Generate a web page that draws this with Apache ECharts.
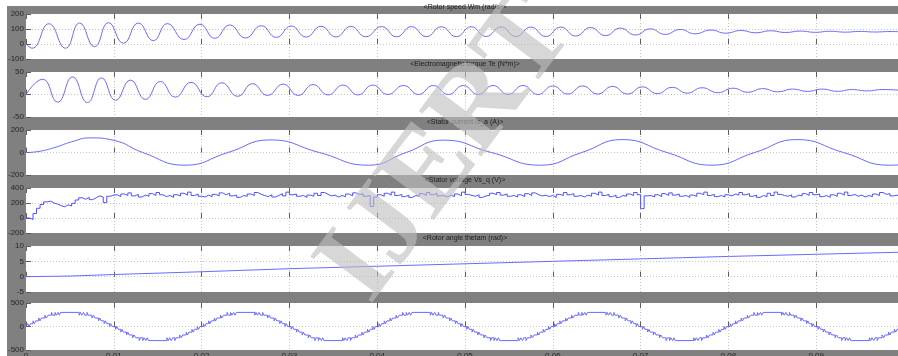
<!DOCTYPE html>
<html>
<head>
<meta charset="utf-8">
<script src="https://cdn.jsdelivr.net/npm/echarts@6/dist/echarts.min.js"></script>
<style>
  html, body { margin: 0; padding: 0; background: #ffffff; }
  #chart { width: 898px; height: 356px; }
</style>
</head>
<body>
<div id="chart"></div>
<script>
// ---- Scope traces, time in seconds ----
const panelTitles = [
  '<Rotor speed Wm (rad/s)>',
  '<Electromagnetic torque Te (N*m)>',
  '<Stator current is_a (A)>',
  '<Stator voltage Vs_q (V)>',
  '<Rotor angle thetam (rad)>',
  ''
];
const yMin  = [-100, -50, -200, -200, -5, -500];
const yMax  = [200, 50, 200, 400, 10, 500];
const yStep = [100, 50, 200, 200, 5, 500];
const timeMin = 0, timeMax = 0.1, timeStep = 0.01;

// Rotor speed: turning points of the oscillation
const speedT = [0, .0007, .0026, .0045, .0061, .0078, .0094, .0111, .0128, .0145, .0161, .0180, .0198, .0215, .0232, .0250, .0268, .0285, .0302, .0319, .0336, .0353, .0370, .0387, .0405, .0422, .0439, .0456, .0473, .0490, .0507, .0524, .0541, .0558, .0575, .0592, .0609, .0626, .0643, .0660, .0677, .0694, .0711, .0728, .0745, .0762, .0780, .0797, .0814, .0831, .0848, .0865, .0882, .0899, .0916, .0933, .0950, .0967, .0984, .1000];
const speedV = [0, -28, 135, -28, 140, -18, 142, 5, 140, 22, 136, 30, 132, 38, 127, 40, 122, 44, 120, 46, 118, 47, 117, 48, 116, 48, 116, 49, 115, 49, 115, 50, 114, 50, 113, 50, 113, 53, 110, 56, 106, 60, 101, 64, 97, 68, 93, 72, 90, 75, 88, 77, 86, 78, 85, 79, 84, 80, 83, 81];

// Electromagnetic torque: turning points
const torqueT = [0, .0019, .0036, .0053, .0070, .0086, .0102, .0119, .0136, .0153, .0170, .0188, .0206, .0223, .0241, .0258, .0275, .0293, .0310, .0327, .0344, .0361, .0378, .0395, .0412, .0430, .0447, .0464, .0481, .0498, .0515, .0532, .0549, .0566, .0583, .0600, .0617, .0634, .0651, .0668, .0685, .0702, .0719, .0736, .0753, .0770, .0788, .0805, .0822, .0839, .0856, .0873, .0890, .0907, .0924, .0941, .0958, .0975, .1000];
const torqueV = [0, 34, -17, 39, -18, 37, -13, 32, -11, 29, -6, 27, -5, 26, -4, 24, -2, 23, -2, 22, -1, 21, -1, 21, 0, 20, 0, 20, 0, 20, 0, 20, 0, 20, 0, 19, 1, 19, 1, 18, 1, 17, 2, 16, 3, 15, 4, 14, 5, 13, 6, 12, 7, 12, 7, 11, 8, 11, 9];

// Stator current phase a
const currentT = [0, .0015, .0033, .0052, .0073, .0100, .0133, .0181, .0230, .0278, .0334, .0390, .0433, .0475, .0530, .0586, .0633, .0679, .0730, .0781, .0830, .0878, .0931, .0983, .1000];
const currentV = [0, 10, 45, 95, 130, 108, 0, -113, 0, 112, 0, -113, 0, 110, 0, -113, 0, 115, 0, -113, 0, 115, 0, -113, -108];

// Stator voltage q-axis, sampled every 0.4 ms
const voltageDt = 0.0004;
const voltageV = [
  0, -20, 60, 130, 180, 215, 225, 200, 185, 165,
  150, 175, 160, 195, 240, 270, 250, 275, 245, 270,
  295, 280, 205, 290, 305,
  310, 285, 320, 300, 335, 295, 315, 280, 305, 290,
  325, 300, 340, 310, 285, 300, 275, 310, 295, 330,
  305, 345, 300, 320, 290, 280, 305, 285, 315, 295,
  335, 310, 330, 295, 305, 275, 300, 290, 320, 300,
  340, 315, 300, 285, 310, 280, 300, 325, 295, 345,
  310, 320, 290, 300, 275, 305, 290, 330, 300, 340,
  315, 295, 305, 280, 300, 285, 320, 295, 335, 310,
  325, 290, 300, 155, 280, 310, 290, 330, 305, 345,
  300, 315, 285, 305, 275, 300, 290, 325, 300, 340,
  310, 330, 295, 300, 280, 305, 285, 320, 295, 345,
  315, 300, 290, 310, 275, 295, 300, 330, 310, 340,
  305, 320, 290, 300, 280, 310, 285, 325, 300, 335,
  310, 295, 305, 285, 300, 275, 315, 300, 340, 310,
  325, 290, 300, 280, 305, 290, 330, 305, 345, 300,
  315, 285, 305, 275, 300, 290, 320, 300, 340, 310,
  125, 295, 300, 280, 310, 285, 325, 300, 335, 305,
  320, 290, 300, 275, 305, 290, 330, 310, 345, 300,
  315, 285, 300, 280, 310, 295, 320, 305, 340, 310,
  325, 290, 305, 275, 300, 285, 330, 300, 345, 315,
  300, 290, 310, 280, 305, 295, 325, 300, 340, 310,
  320, 285, 300, 275, 310, 290, 330, 305, 345, 300,
  315, 290, 305, 280, 300, 285, 320, 300, 340, 315,
  325, 295, 305, 285, 300, 310
];

// Rotor angle
const angleT = [0, .005, .01, .02, .03, .04, .05, .06, .07, .08, .09, .1];
const angleV = [0, 0.2, 0.7, 1.6, 2.6, 3.4, 4.2, 5.0, 5.8, 6.6, 7.3, 8.0];

// Multilevel phase voltage: switching pattern of one half cycle (ms, V)
const stairOffsetMs = [0, 0.2, 0.35, 0.5, 0.8, 0.95, 1.1, 1.45, 1.6, 1.75, 2.15, 2.3, 2.5, 2.9, 3.05, 3.3, 3.45, 3.65, 3.8, 3.95,
                       6.05, 6.2, 6.35, 6.55, 6.7, 6.95, 7.1, 7.5, 7.7, 7.85, 8.25, 8.4, 8.55, 8.9, 9.05, 9.2, 9.5, 9.65, 9.8];
const stairLevel    = [0, 60, 0, 60, 120, 60, 120, 180, 120, 180, 240, 180, 240, 300, 240, 300, 240, 300, 240, 300,
                       240, 300, 240, 300, 240, 300, 240, 180, 240, 180, 120, 180, 120, 60, 120, 60, 0, 60, 0];
const halfCycleStart = [0, 0.01, 0.02, 0.03, 0.04, 0.05, 0.06, 0.07, 0.08, 0.09];
const halfCycleSign  = [1, -1, 1, -1, 1, -1, 1, -1, 1, -1];

// ---- build series data ----
const zip = (t, v) => t.map((x, i) => [x, v[i]]);
const speedData = zip(speedT, speedV);
const torqueData = zip(torqueT, torqueV);
const currentData = zip(currentT, currentV);
const voltageData = voltageV.map((v, i) => [i * voltageDt, v]);
const angleData = zip(angleT, angleV);
const stairData = [];
halfCycleStart.forEach((t0, k) => {
  stairOffsetMs.forEach((ms, j) => {
    stairData.push([t0 + ms / 1000, halfCycleSign[k] * stairLevel[j]]);
  });
});
stairData.push([timeMax, 0]);

// ---- layout ----
const panelTop = [14, 72, 130, 188, 246, 303];
const panelHeight = [45, 45, 45, 45, 46, 47];
const plotLeft = 26, plotWidth = 878;
const titleCenterY = [8, 65.5, 123, 181.5, 239.5];

const bgGray = '#808080';
const traceBlue = '#6a6aff';
const labelColor = '#262626';
const tickColor = '#5e5e5e';
const gridDot = '#c4c4c4';

const grids = panelTop.map((top, i) => ({
  left: plotLeft, top: top, width: plotWidth, height: panelHeight[i],
  show: true, backgroundColor: '#ffffff', borderWidth: 0,
  containLabel: false, outerBoundsMode: 'none'
}));

const xAxes = [];
const yAxes = [];
panelTop.forEach((_, i) => {
  xAxes.push({
    type: 'value', gridIndex: i, position: 'bottom',
    min: timeMin, max: timeMax, interval: timeStep,
    axisLine: { show: false },
    axisTick: { show: true, inside: true, length: 5, lineStyle: { color: tickColor, width: 1 } },
    axisLabel: { show: i === 5, fontSize: 8, color: labelColor, margin: 2, fontFamily: 'Liberation Sans' },
    splitLine: { show: true, showMinLine: false, showMaxLine: false, lineStyle: { color: gridDot, type: [1, 2], width: 1 } }
  });
  xAxes.push({
    type: 'value', gridIndex: i, position: 'top',
    min: timeMin, max: timeMax, interval: timeStep,
    axisLine: { show: false },
    axisTick: { show: true, inside: true, length: 5, lineStyle: { color: tickColor, width: 1 } },
    axisLabel: { show: false },
    splitLine: { show: false }
  });
  yAxes.push({
    type: 'value', gridIndex: i,
    min: yMin[i], max: yMax[i], interval: yStep[i],
    axisLine: { show: false },
    axisTick: { show: true, inside: true, length: 5, lineStyle: { color: tickColor, width: 1 } },
    axisLabel: { show: true, fontSize: 8, color: labelColor, margin: 2, fontFamily: 'Liberation Sans' },
    splitLine: { show: true, showMinLine: false, showMaxLine: false, lineStyle: { color: gridDot, type: [1, 2], width: 1 } }
  });
});

const trace = (i, data, extra) => Object.assign({
  type: 'line', xAxisIndex: 2 * i, yAxisIndex: i, data: data,
  showSymbol: false, symbol: 'none', animation: false,
  lineStyle: { color: traceBlue, width: 1 }, itemStyle: { color: traceBlue },
  clip: true
}, extra || {});

const series = [
  trace(0, speedData, { smooth: 0.5 }),
  trace(1, torqueData, { smooth: 0.5 }),
  trace(2, currentData, { smooth: 0.5 }),
  trace(3, voltageData, { step: 'end', lineStyle: { color: '#5050ff', width: 1 } }),
  trace(4, angleData, {}),
  trace(5, stairData, { step: 'end' })
];

const titles = panelTitles.filter(t => t).map((t, i) => ({
  text: t, left: plotLeft + plotWidth / 2, top: titleCenterY[i] - 4.5,
  textAlign: 'center', padding: 0,
  textStyle: { fontSize: 7, fontWeight: 'normal', color: '#1c1c1c', fontFamily: 'Liberation Sans' }
}));

const chart = echarts.init(document.getElementById('chart'), null, { renderer: 'canvas' });
chart.setOption({
  backgroundColor: '#ffffff',
  animation: false,
  title: titles,
  grid: grids,
  xAxis: xAxes,
  yAxis: yAxes,
  series: series,
  graphic: [
    { type: 'rect', z: -100, silent: true,
      shape: { x: 7, y: 6, width: 891, height: 350 },
      style: { fill: bgGray } },
    { type: 'text', z: 100, silent: true,
      x: 448, y: 150, rotation: 0.93,
      style: { text: 'IJERT', font: 'bold 118px "Liberation Serif"',
               fill: 'rgba(190,190,190,0.62)', align: 'center', verticalAlign: 'middle' } }
  ]
});
</script>
</body>
</html>
